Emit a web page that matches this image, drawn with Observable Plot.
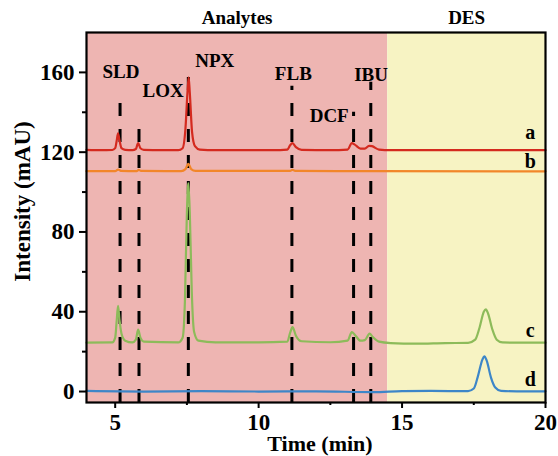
<!DOCTYPE html>
<html>
<head>
<meta charset="utf-8">
<script src="https://cdn.jsdelivr.net/npm/d3@7"></script>
<script src="https://cdn.jsdelivr.net/npm/@observablehq/plot@0.6"></script>
<style>
  html, body { margin: 0; padding: 0; background: #fff; }
</style>
</head>
<body>
<div id="chart"></div>
<script>
// Regions
const regionNames = ["Analytes", "DES"];
const regionStart = [4, 14.5];
const regionEnd = [14.5, 20];
const regionColors = ["#EEB5B2", "#F7F3C3"];

// Analyte markers
const peakNames = ["SLD", "LOX", "NPX", "FLB", "DCF", "IBU"];
const peakTimes = [5.17, 5.83, 7.55, 11.16, 13.31, 13.91];
const dashTops = [150, 137, 164, 153, 140, 155];
const labelTimes = [5.2, 6.67, 8.47, 11.21, 12.46, 13.92];
const labelValues = [160.3, 150.7, 165.8, 159.3, 138.2, 158.8];

// Chromatograms
const seriesNames = ["a", "b", "c", "d"];
const seriesColors = ["#D42A1F", "#F2862A", "#8DBB5A", "#3D86C8"];
const seriesLabelTime = [19.47, 19.47, 19.47, 19.47];
const seriesLabelValue = [129.6, 115.2, 30.3, 6.0];

const timesA = [4.0, 4.5, 4.9, 5.0, 5.05, 5.1, 5.15, 5.22, 5.35, 5.6, 5.72, 5.8, 5.88, 6.0, 6.6, 7.2, 7.35, 7.45, 7.52, 7.56, 7.6, 7.68, 7.78, 7.95, 8.5, 9.5, 10.5, 11.0, 11.1, 11.18, 11.3, 11.5, 12.5, 13.1, 13.25, 13.35, 13.55, 13.7, 13.85, 13.95, 14.2, 14.6, 16, 18, 20];
const valuesA = [121.2, 121.0, 121.1, 122, 125.5, 129.5, 126, 122, 121.2, 121.0, 121.6, 124.5, 122, 121.2, 121.0, 121.0, 122, 132, 150, 157.5, 150, 130, 123, 121.3, 121.0, 121.0, 121.0, 121.3, 123.5, 124.5, 122.5, 121.2, 121.0, 121.3, 124.5, 123.8, 121.8, 121.8, 123.2, 123.0, 121.3, 121.0, 121.0, 121.0, 121.0];

const timesB = [4.0, 5.0, 5.1, 5.2, 5.75, 5.82, 5.9, 7.3, 7.45, 7.55, 7.65, 7.8, 11.1, 11.18, 11.3, 14.0, 20.0];
const valuesB = [110.5, 110.5, 111.3, 110.6, 110.5, 111.1, 110.6, 110.5, 111.5, 114.2, 111.5, 110.6, 110.6, 111.1, 110.6, 110.5, 110.4];

const timesC = [4.0, 4.9, 5.0, 5.05, 5.1, 5.15, 5.22, 5.35, 5.6, 5.72, 5.8, 5.88, 6.0, 7.2, 7.35, 7.43, 7.5, 7.55, 7.6, 7.67, 7.75, 7.9, 8.5, 10.0, 11.0, 11.1, 11.18, 11.3, 11.5, 12.5, 13.1, 13.25, 13.35, 13.55, 13.7, 13.87, 13.97, 14.2, 14.6, 15.5, 16.5, 17.3, 17.55, 17.7, 17.85, 17.92, 18.0, 18.15, 18.3, 18.5, 19.0, 20.0];
const valuesC = [24.5, 24.6, 27, 35, 43, 36, 29, 25.5, 24.6, 26, 31, 27, 25, 24.6, 27, 45, 90, 104.5, 90, 50, 30, 25.5, 24.6, 24.6, 25, 29.5, 32.3, 28, 25.2, 24.7, 25.5, 29.8, 28.5, 25.5, 25.8, 29, 27.5, 25, 24.3, 24.0, 24.3, 24.4, 26, 32, 40, 41.2, 39, 31, 26, 24.6, 24.5, 24.5];

const timesD = [4.0, 6.0, 8.0, 10.0, 12.0, 14.0, 15.0, 16.0, 17.3, 17.5, 17.65, 17.8, 17.87, 17.95, 18.1, 18.25, 18.45, 19.0, 20.0];
const valuesD = [0.3, 0.0, 0.2, 0.0, 0.1, -0.3, 0.2, 0.3, 0.2, 1.5, 8, 16, 17.6, 15.5, 7, 2, 0.3, 0.1, 0.1];

// Axis ticks
const xTicks = [5, 10, 15, 20];
const xMinorTicks = [7.5, 12.5, 17.5];
const yTicks = [0, 40, 80, 120, 160];
const yMinorTicks = [20, 60, 100, 140];

// Build tables
const regions = regionNames.map((n, i) => ({name: n, start: regionStart[i], end: regionEnd[i], color: regionColors[i], mid: (regionStart[i] + regionEnd[i]) / 2}));
const peaks = peakNames.map((n, i) => ({name: n, t: peakTimes[i], top: dashTops[i], lt: labelTimes[i], lv: labelValues[i]}));
const allTimes = [timesA, timesB, timesC, timesD];
const allValues = [valuesA, valuesB, valuesC, valuesD];
const lines = [];
seriesNames.forEach((s, i) => {
  allTimes[i].forEach((t, j) => lines.push({series: s, t, v: allValues[i][j]}));
});
const seriesLabels = seriesNames.map((s, i) => ({name: s, t: seriesLabelTime[i], v: seriesLabelValue[i]}));

const yMin = -5.5, yMax = 180;
const font = "'Liberation Serif', 'Times New Roman', serif";

const chart = Plot.plot({
  width: 558,
  height: 456,
  marginLeft: 86,
  marginRight: 13,
  marginTop: 32,
  marginBottom: 54,
  style: {fontFamily: font, fontWeight: "bold", background: "white", color: "black"},
  x: {domain: [4, 20]},
  y: {domain: [yMin, yMax]},
  color: {domain: seriesNames, range: seriesColors},
  marks: [
    Plot.rect(regions, {x1: "start", x2: "end", fill: "color"}),
    Plot.text(regions, {x: "mid", y: yMax, text: "name", dy: -15, fontSize: 19, fill: "black", clip: false}),
    Plot.ruleX(peaks, {x: "t", y1: yMin, y2: "top", stroke: "black", strokeWidth: 3, strokeDasharray: "13,13"}),
    Plot.line(lines, {x: "t", y: "v", z: "series", stroke: "series", strokeWidth: 2.2, curve: "monotone-x"}),
    Plot.text(peaks, {x: "lt", y: "lv", text: "name", fontSize: 19, fill: "black"}),
    Plot.text(seriesLabels, {x: "t", y: "v", text: "name", fontSize: 20, fill: "black"}),
    Plot.axisX({ticks: xTicks, tickSize: 6, tickPadding: 5, strokeWidth: 2, fontSize: 23, label: null}),
    Plot.axisX({ticks: xMinorTicks, tickSize: 3, strokeWidth: 2, text: null, label: null}),
    Plot.axisY({ticks: yTicks, tickSize: 7, tickPadding: 5, strokeWidth: 2, fontSize: 23, label: null}),
    Plot.axisY({ticks: yMinorTicks, tickSize: 4, strokeWidth: 2, text: null, label: null}),
    Plot.text(["Time (min)"], {frameAnchor: "bottom", textAnchor: "middle", dx: 4, dy: 48, fontSize: 22, fill: "black"}),
    Plot.text(["Intensity (mAU)"], {frameAnchor: "left", textAnchor: "middle", dx: -64, dy: -16, rotate: -90, fontSize: 23, fill: "black"}),
    Plot.frame({stroke: "black", strokeWidth: 2.2})
  ]
});
document.getElementById("chart").appendChild(chart);
</script>
</body>
</html>
